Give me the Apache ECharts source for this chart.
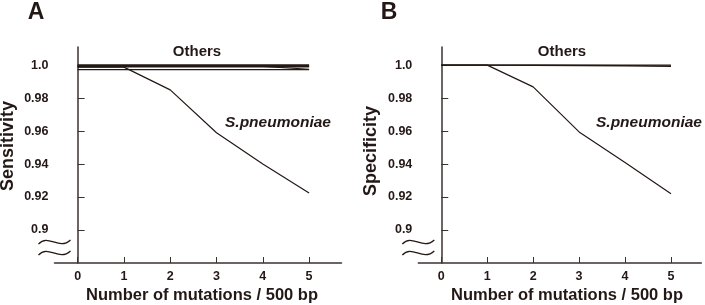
<!DOCTYPE html>
<html>
<head>
<meta charset="utf-8">
<script src="https://cdn.jsdelivr.net/npm/echarts@6.0.0/dist/echarts.min.js"></script>
<style>
  html, body { margin: 0; padding: 0; background: #fff; }
  #chart { width: 705px; height: 305px; }
</style>
</head>
<body>
<div id="chart"></div>
<script>
// x: number of mutations per 500 bp
const mutations = [0, 1, 2, 3, 4, 5]
const xTicks = [0, 1, 2, 3, 4, 5]
const yTicks = [0.9, 0.92, 0.94, 0.96, 0.98, 1.0]

// Panel A - sensitivity
const sensPneumo = [0.9988, 0.9988, 0.985, 0.959, 0.940, 0.9225]
const sensOthers1 = [1.0, 1.0, 1.0, 1.0, 1.0, 1.0]
const sensOthers2 = [0.9995, 0.9995, 0.9995, 0.9995, 0.9995, 0.9995]
const sensOthers3 = [0.999, 0.999, 0.999, 0.999, 0.999, 0.999]
const sensOthers4 = [0.9993, 0.9993, 0.9993, 0.9993, 0.9992, 0.9975]
const sensOthers5 = [0.9973, 0.9973, 0.9973, 0.9973, 0.9973, 0.9973]

// Panel B - specificity
const specPneumo = [1.0, 1.0, 0.9868, 0.9595, 0.941, 0.922]
const specOthers1 = [1.0, 1.0, 1.0, 1.0, 1.0, 1.0]
const specOthers2 = [1.0, 1.0, 0.9999, 0.9998, 0.9996, 0.9993]

const ink = '#231815'
const axisInk = '#3b3230'
const font = "'Liberation Sans', Arial, sans-serif"

const chart = echarts.init(document.getElementById('chart'))

function pairs(ys) {
  return mutations.map((x, i) => [x, ys[i]])
}

function xAxis(gridIndex, max) {
  return {
    type: 'value',
    gridIndex: gridIndex,
    min: -0.5,
    max: max,
    axisLine: { lineStyle: { color: axisInk, width: 1.5 } },
    axisTick: { inside: true, length: 6, customValues: xTicks, lineStyle: { color: axisInk, width: 1 } },
    axisLabel: {
      customValues: xTicks,
      margin: 7,
      color: ink,
      fontFamily: font,
      fontWeight: 'bold',
      fontSize: 12.5
    },
    splitLine: { show: false }
  }
}

function yAxis(gridIndex) {
  return {
    type: 'value',
    gridIndex: gridIndex,
    min: 0.88,
    max: 1.011,
    axisLine: { show: true, lineStyle: { color: axisInk, width: 1.5 } },
    axisTick: { show: true, inside: true, length: 7, customValues: yTicks, lineStyle: { color: axisInk, width: 1 } },
    axisLabel: {
      customValues: yTicks,
      margin: 6,
      color: ink,
      fontFamily: font,
      fontWeight: 'bold',
      fontSize: 12.5,
      formatter: function (v) {
        if (Math.abs(v - 1) < 1e-9) return '1.0'
        if (Math.abs(v - 0.9) < 1e-9) return '0.9'
        return v.toFixed(2)
      }
    },
    splitLine: { show: false }
  }
}

function line(xi, ys, width) {
  return {
    type: 'line',
    xAxisIndex: xi,
    yAxisIndex: xi,
    data: pairs(ys),
    showSymbol: false,
    silent: true,
    lineStyle: { color: ink, width: width }
  }
}

// axis break marks (two small waves crossing the y axis)
function breakMarks(ax) {
  const wave = (y) => ({
    type: 'bezierCurve',
    shape: { x1: ax - 16, y1: y + 2, cpx1: ax - 6, cpy1: y - 9, cpx2: ax + 4, cpy2: y + 9, x2: ax + 16, y2: y - 2 },
    style: { stroke: ink, lineWidth: 1.3, fill: null },
    z: 20
  })
  return [
    { type: 'rect', shape: { x: ax - 3, y: 243, width: 6, height: 9 }, style: { fill: '#fff' }, z: 19 },
    wave(242),
    wave(253)
  ]
}

function text(x, y, str, size, extra) {
  return {
    type: 'text',
    x: x,
    y: y,
    z: 30,
    style: Object.assign({
      text: str,
      fill: ink,
      fontFamily: font,
      fontWeight: 'bold',
      fontSize: size,
      align: 'center',
      verticalAlign: 'middle'
    }, extra || {})
  }
}

const option = {
  backgroundColor: '#fff',
  animation: false,
  grid: [
    { left: 54.5, top: 47, width: 287, height: 216 },
    { left: 418.3, top: 47, width: 283, height: 216 }
  ],
  xAxis: [xAxis(0, 5.7), xAxis(1, 5.66)],
  yAxis: [yAxis(0), yAxis(1)],
  series: [
    line(0, sensOthers1, 1.6),
    line(0, sensOthers2, 1.6),
    line(0, sensOthers3, 1.6),
    line(0, sensOthers4, 1.2),
    line(0, sensOthers5, 1.1),
    line(0, sensPneumo, 1.2),
    line(1, specOthers1, 1.4),
    line(1, specOthers2, 1.4),
    line(1, specPneumo, 1.2)
  ],
  graphic: [
    ...breakMarks(54.5),
    ...breakMarks(418.3),
    text(36, 13, 'A', 23),
    text(389, 13, 'B', 23),
    text(197, 52, 'Others', 15),
    text(562, 52, 'Others', 15),
    text(225, 123, 'S.pneumoniae', 15.5, { align: 'left', fontStyle: 'italic' }),
    text(596, 123, 'S.pneumoniae', 15.5, { align: 'left', fontStyle: 'italic' }),
    text(202, 295, 'Number of mutations / 500 bp', 16.5),
    text(567, 295, 'Number of mutations / 500 bp', 16.5),
    Object.assign(text(8, 146, 'Sensitivity', 18), { rotation: Math.PI / 2 }),
    Object.assign(text(371, 151, 'Specificity', 18), { rotation: Math.PI / 2 })
  ]
}

chart.setOption(option)
</script>
</body>
</html>
